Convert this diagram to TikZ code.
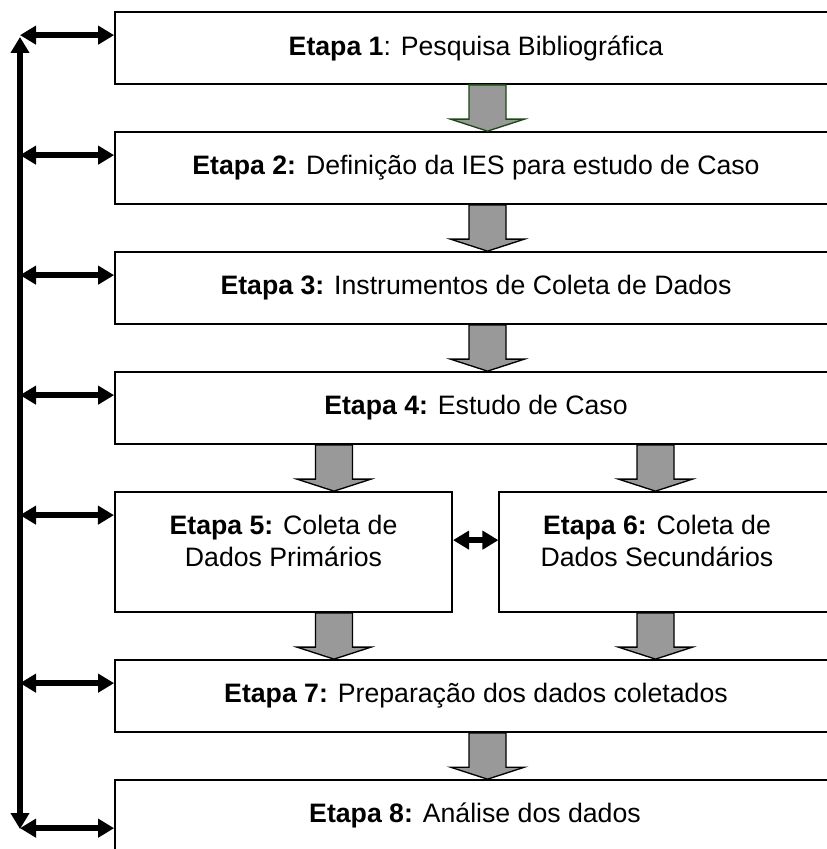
\documentclass[tikz,border=0pt]{standalone}
\usepackage{fontspec}
\setmainfont{Liberation Sans}
\usetikzlibrary{arrows.meta,calc}
\definecolor{arrowgray}{RGB}{153,153,153}
\definecolor{darkgreen}{RGB}{28,72,20}
\newcommand\garr[3][]{\draw[garrow,#1] ($(#2)+(-18.5,0)$) -- ($(#3)+(-18.5,-12)$) -- ($(#3)+(-37,-12)$) -- (#3) -- ($(#3)+(37,-12)$) -- ($(#3)+(18.5,-12)$) -- ($(#2)+(18.5,0)$) -- cycle;}
\begin{document}
\begin{tikzpicture}[x=0.75pt,y=-0.75pt,
  box/.style={draw=black,line width=1.3pt,fill=white,minimum height=54pt,minimum width=541.5pt,inner sep=0pt,font=\fontsize{20}{24}\selectfont},
  halfbox/.style={box,minimum height=90pt,minimum width=253pt},
  lbl/.style={font=\fontsize{20}{24}\selectfont,align=center,inner sep=0pt},
  dbl/.style={line width=4.5pt,{Triangle[length=12pt,width=13.5pt]}-{Triangle[length=12pt,width=13.5pt]}},
  garrow/.style={fill=arrowgray,draw=black,line width=1pt,line join=miter}]
\useasboundingbox (0,0) rectangle (826,849);
% boxes
\node[box] (b1) at (476,48) {\textbf{Etapa 1}: Pesquisa Bibliográfica};
\node[box] (b2) at (476,168) {\textbf{Etapa 2:} Definição da IES para estudo de Caso};
\node[box] (b3) at (476,288) {\textbf{Etapa 3:} Instrumentos de Coleta de Dados};
\node[box] (b4) at (476,408) {\textbf{Etapa 4:} Estudo de Caso};
\node[halfbox] (b5) at (283.5,552) {};
\node[halfbox] (b6) at (668,552) {};
\node[lbl] (t5) at (283.5,541) {\textbf{Etapa 5:} Coleta de\\Dados Primários};
\node[lbl] (t6) at (657,541) {\textbf{Etapa 6:} Coleta de\\Dados Secundários};
\node[box] (b7) at (476,696) {\textbf{Etapa 7:} Preparação dos dados coletados};
\node[box,minimum height=70pt] (b8) at (476,826.7) {};
\node[lbl] (t8) at (475,815) {\textbf{Etapa 8:} Análise dos dados};
% gray block arrows
\coordinate (cm) at (487.5,0);
\coordinate (cl) at (334,0);
\coordinate (cr) at (655.5,0);
\garr[draw=darkgreen]{b1.south -| cm}{b2.north -| cm}
\garr{b2.south -| cm}{b3.north -| cm}
\garr{b3.south -| cm}{b4.north -| cm}
\garr{b4.south -| cl}{b5.north -| cl}
\garr{b4.south -| cr}{b6.north -| cr}
\garr{b5.south -| cl}{b7.north -| cl}
\garr{b6.south -| cr}{b7.north -| cr}
\garr{b7.south -| cm}{b8.north -| cm}
% black double arrows
\coordinate (vtop) at (20,37);
\coordinate (vbot) at (20,829);
\draw[dbl] (vtop) -- (vbot);
\coordinate (a1) at ($(b1.north west)+(0,24)$);
\coordinate (a2) at ($(b2.north west)+(0,24)$);
\coordinate (a3) at ($(b3.north west)+(0,24)$);
\coordinate (a4) at ($(b4.north west)+(0,24)$);
\coordinate (a5) at ($(b5.north west)+(0,24)$);
\coordinate (a7) at ($(b7.north west)+(0,24)$);
\coordinate (a8) at ($(b8.north west)+(0,49)$);
\foreach \a in {a1,a2,a3,a4,a5,a7,a8}{\draw[dbl] (\a -| vtop) -- (\a);}
\draw[dbl] ($(b5.north east)+(0,49)$) -- ($(b6.north west)+(0,49)$);
\end{tikzpicture}
\end{document}
